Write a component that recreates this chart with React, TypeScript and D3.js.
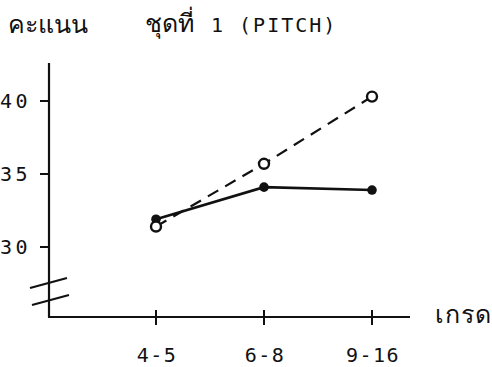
import React from "react";
import * as d3 from "d3";

const grades = ["4-5", "6-8", "9-16"];
const dashedSeries = [31.4, 35.7, 40.3];
const solidSeries = [31.9, 34.1, 33.9];
const yTicks = [30, 35, 40];

const W = 492, H = 367;

export default function App() {
  const x = d3.scalePoint<string>().domain(grades).range([156, 372]);
  const y = d3.scaleLinear().domain([30, 40]).range([247, 101]);
  const line = d3.line<number>().x((_, i) => x(grades[i])!).y(d => y(d));
  const axisX = 49, axisY = 317;
  const numFont = "'DejaVu Sans Mono', monospace";
  const thaiFont = "'Liberation Mono', 'DejaVu Sans', sans-serif";
  const ink = "#111";
  return (
    <svg width={W} height={H} style={{ position: "absolute", left: 0, top: 0, background: "#fff" }}>
      <rect width={W} height={H} fill="#fff" />
      <g fill={ink}>
        <text x={8} y={33} fontSize={25} fontFamily={thaiFont}>คะแนน</text>
        <text x={145} y={32} fontSize={25} fontFamily={thaiFont}>ชุดที่</text>
        <text x={211} y={32} fontSize={20} letterSpacing={2} fontFamily={numFont}>1 (PITCH)</text>
      </g>
      {/* axes */}
      <line x1={axisX} y1={63} x2={axisX} y2={axisY} stroke={ink} strokeWidth={2.2} />
      <line x1={axisX - 1} y1={axisY} x2={410} y2={axisY} stroke={ink} strokeWidth={2.2} />
      {/* break marks */}
      <line x1={30} y1={288} x2={67} y2={278} stroke={ink} strokeWidth={2.2} />
      <line x1={32} y1={305} x2={69} y2={295} stroke={ink} strokeWidth={2.2} />
      {yTicks.map(t => (
        <g key={t}>
          <line x1={40} x2={axisX} y1={y(t)} y2={y(t)} stroke={ink} strokeWidth={2} />
          <text x={31} y={y(t)} dy="0.36em" textAnchor="end" fontFamily={numFont} fontSize={20} letterSpacing={3.5} fill={ink}>{t}</text>
        </g>
      ))}
      {grades.map(g => (
        <g key={g}>
          <line x1={x(g)} x2={x(g)} y1={310} y2={325} stroke={ink} strokeWidth={2} />
          <text x={x(g)! + 1} y={362} textAnchor="middle" fontFamily={numFont} fontSize={20} letterSpacing={1.5} fill={ink}>{g}</text>
        </g>
      ))}
      <text x={435} y={323} fontFamily={thaiFont} fontSize={25} letterSpacing={1} fill={ink}>เกรด</text>
      {/* series */}
      <path d={line(dashedSeries)!} fill="none" stroke={ink} strokeWidth={2.2} strokeDasharray="12,8" />
      <path d={line(solidSeries)!} fill="none" stroke={ink} strokeWidth={2.6} />
      {solidSeries.map((v, i) => (
        <circle key={"s" + i} cx={x(grades[i])} cy={y(v)} r={4.8} fill={ink} />
      ))}
      {dashedSeries.map((v, i) => (
        <circle key={"d" + i} cx={x(grades[i])} cy={y(v)} r={5} fill="#fff" stroke={ink} strokeWidth={2.4} />
      ))}
    </svg>
  );
}
